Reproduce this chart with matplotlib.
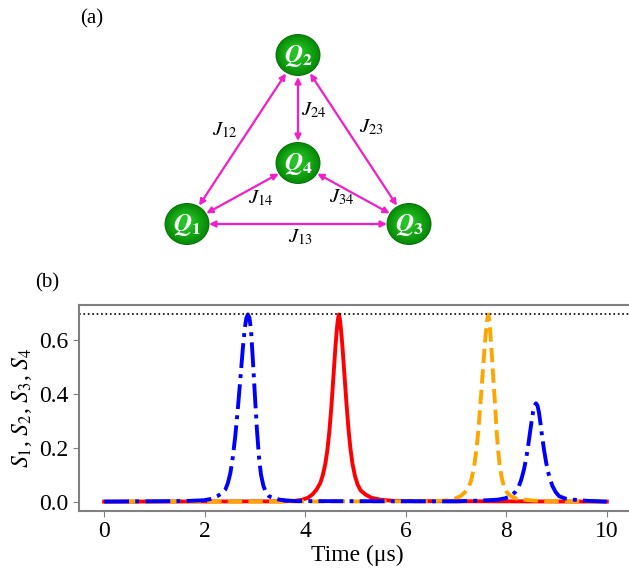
import numpy as np
import matplotlib
matplotlib.use("Agg")
import matplotlib.pyplot as plt
from matplotlib.patches import Ellipse

plt.rcParams['font.family'] = ['Liberation Serif', 'DejaVu Serif']
plt.rcParams['mathtext.fontset'] = 'stix'

# ---- data ----
# blue dash-dot series (two peaks)
blue_t = [0.0, 1.6, 1.98, 2.10, 2.18, 2.25, 2.30, 2.36, 2.41, 2.46, 2.51, 2.56, 2.61, 2.66,
          2.71, 2.76, 2.80, 2.83, 2.86, 2.89, 2.92, 2.96, 3.00, 3.04, 3.08, 3.12, 3.17,
          3.22, 3.28, 3.38, 3.50, 3.65, 3.8, 7.0, 7.35, 7.6, 7.82, 7.97, 8.09, 8.18, 8.25,
          8.30, 8.35, 8.39, 8.43, 8.47, 8.50, 8.53, 8.56, 8.59, 8.62, 8.65, 8.68, 8.71,
          8.75, 8.79, 8.82, 8.87, 8.92, 8.98, 9.05, 9.18, 9.35, 9.6, 10.0]
blue_v = [0.0, 0.002, 0.005, 0.009, 0.014, 0.020, 0.026, 0.034, 0.044, 0.068, 0.105, 0.165,
          0.245, 0.345, 0.455, 0.570, 0.645, 0.680, 0.693, 0.680, 0.640, 0.520, 0.390,
          0.265, 0.165, 0.100, 0.057, 0.035, 0.020, 0.012, 0.007, 0.004, 0.002, 0.001,
          0.003, 0.005, 0.007, 0.012, 0.020, 0.036, 0.057, 0.083, 0.118, 0.155, 0.200,
          0.254, 0.293, 0.330, 0.355, 0.364, 0.356, 0.330, 0.290, 0.245, 0.192, 0.148,
          0.118, 0.083, 0.057, 0.036, 0.020, 0.011, 0.007, 0.003, 0.0]

# red solid series
red_t = [0.0, 3.5, 3.8, 3.94, 4.05, 4.14, 4.22, 4.30, 4.35, 4.40, 4.44, 4.48, 4.52, 4.56,
         4.60, 4.63, 4.65, 4.67, 4.69, 4.71, 4.74, 4.78, 4.82, 4.86, 4.90, 4.94, 4.99,
         5.04, 5.10, 5.20, 5.32, 5.50, 5.75, 6.0, 10.0]
red_v = [0.0, 0.001, 0.003, 0.007, 0.014, 0.026, 0.043, 0.069, 0.098, 0.140, 0.190, 0.260,
         0.350, 0.460, 0.570, 0.640, 0.675, 0.693, 0.675, 0.640, 0.575, 0.470, 0.365,
         0.270, 0.195, 0.140, 0.095, 0.064, 0.042, 0.026, 0.014, 0.007, 0.003, 0.002, 0.0]

# orange dashed series
orange_t = [0.0, 6.5, 6.83, 6.97, 7.09, 7.18, 7.26, 7.31, 7.36, 7.40, 7.44, 7.48, 7.52,
            7.56, 7.59, 7.615, 7.64, 7.66, 7.68, 7.71, 7.74, 7.77, 7.81, 7.84, 7.87, 7.91,
            7.95, 8.01, 8.09, 8.2, 8.35, 8.55, 8.8, 10.0]
orange_v = [0.0, 0.001, 0.005, 0.011, 0.020, 0.035, 0.057, 0.085, 0.130, 0.185, 0.254,
            0.350, 0.450, 0.550, 0.620, 0.668, 0.693, 0.675, 0.630, 0.550, 0.460, 0.377,
            0.254, 0.185, 0.130, 0.088, 0.057, 0.035, 0.020, 0.011, 0.007, 0.004, 0.002, 0.0]

s_max = np.log(2)  # dotted reference line
x_ticks = [0, 2, 4, 6, 8, 10]
y_ticks = [0.0, 0.2, 0.4, 0.6]

# diagram: qubits and couplings
qubits = ['1', '2', '3', '4']
couplings = [('1', '2'), ('2', '4'), ('2', '3'), ('1', '4'), ('3', '4'), ('1', '3')]

# ---- layout (pixel units of the top panel) ----
node_pos = {'1': (187, 224), '2': (298, 55), '3': (409, 224), '4': (298, 163)}
label_pos = {'12': (225, 130), '24': (314, 110), '23': (371, 127),
             '14': (261, 198), '34': (342, 197), '13': (300, 237)}
magenta = '#F01ECB'

fig = plt.figure(figsize=(6.29, 5.69), dpi=100)

# top panel: coupling diagram
top_h = 260
axd = fig.add_axes([0, 1 - top_h / 569, 1, top_h / 569])
axd.set_xlim(0, 629)
axd.set_ylim(top_h, 0)
axd.axis('off')

r_node = 22
for a, b in couplings:
    p0 = np.array(node_pos[a], float)
    p1 = np.array(node_pos[b], float)
    u = (p1 - p0) / np.linalg.norm(p1 - p0)
    s = p0 + u * r_node
    e = p1 - u * r_node
    axd.annotate('', xy=e, xytext=s,
                 arrowprops=dict(arrowstyle='<|-|>', color=magenta, lw=1.6,
                                 mutation_scale=9, shrinkA=0, shrinkB=0))
    lx, ly = label_pos[a + b]
    axd.text(lx, ly, r'$J_{%s}$' % (a + b), fontsize=15, ha='center', va='center')

# green nodes with a radial shading
n_layers = 14
for q in qubits:
    cx, cy = node_pos[q]
    axd.add_patch(Ellipse((cx, cy), 45, 42, facecolor='#0a700a', edgecolor='none', zorder=3))
    for i in range(n_layers):
        f = i / (n_layers - 1)
        col = (0.03 + 0.12 * f, 0.55 + 0.22 * f, 0.03 + 0.12 * f)
        axd.add_patch(Ellipse((cx - 2 * f, cy - 2 * f), 43 * (1 - 0.75 * f), 40 * (1 - 0.75 * f),
                              facecolor=col, edgecolor='none', zorder=3))
    axd.text(cx, cy + 1, r'$\mathbfit{Q}_{\mathbf{%s}}$' % q, color='white', fontsize=18,
             ha='center', va='center', zorder=4)

fig.text(92 / 629, 1 - 19 / 569, '(a)', fontsize=15, ha='center', va='center')
fig.text(47 / 629, 1 - 283 / 569, '(b)', fontsize=15, ha='center', va='center')

# bottom panel: S curves
ax = fig.add_axes([79 / 629, 58 / 569, 557 / 629, 206 / 569])
ax.plot(red_t, red_v, color='red', lw=2.8)
ax.plot(orange_t, orange_v, color='orange', lw=2.8, ls='--')
ax.plot(blue_t, blue_v, color='blue', lw=2.8, ls='-.')
ax.axhline(s_max, color='black', lw=1.2, ls=':')
ax.set_xlim(-0.5, 10.58)
ax.set_ylim(-0.0347, 0.728)
ax.set_xticks(x_ticks)
ax.set_yticks(y_ticks)
ax.set_xticklabels([str(t) for t in x_ticks])
ax.set_yticklabels(['%.1f' % t for t in y_ticks])
ax.tick_params(labelsize=17, length=4, color='gray')
for sp in ax.spines.values():
    sp.set_color('gray')
    sp.set_linewidth(1.5)
ax.spines['right'].set_visible(False)
ax.set_xlabel('Time (μs)', fontsize=17, labelpad=2)
ax.set_ylabel(r'$S_1$, $S_2$, $S_3$, $S_4$', fontsize=17, labelpad=4)

fig.savefig('out.png', dpi=100)
